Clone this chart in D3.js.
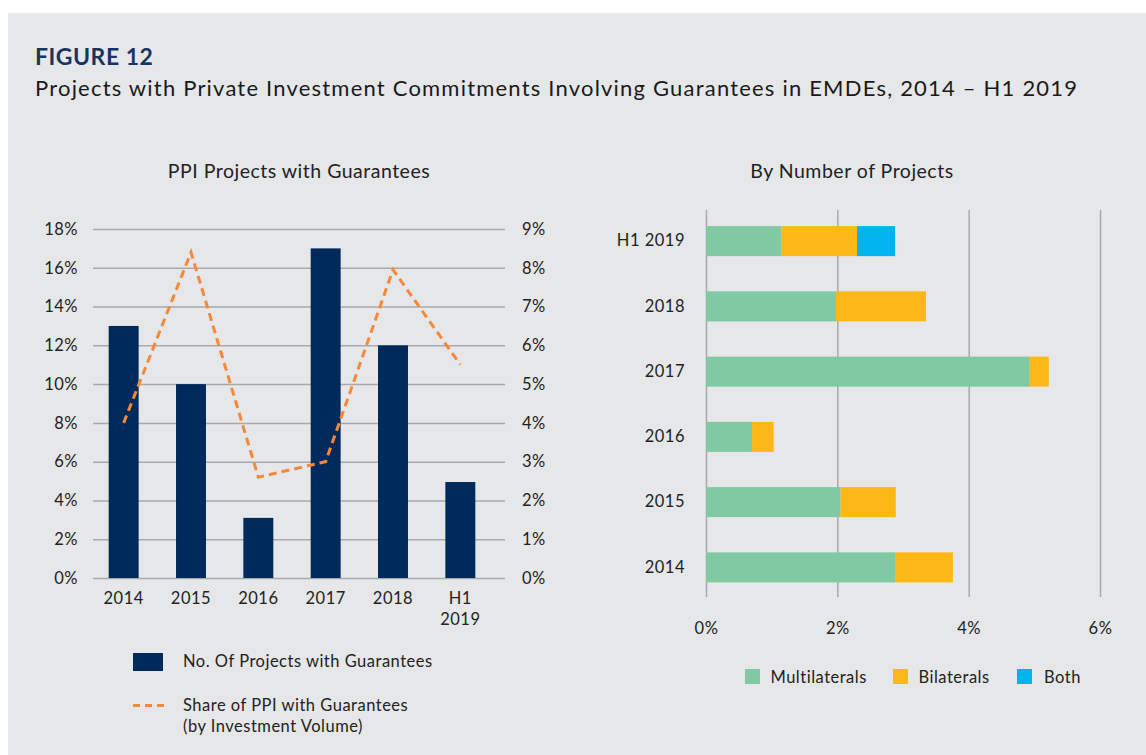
<!DOCTYPE html>
<html>
<head>
<meta charset="utf-8">
<script src="https://cdn.jsdelivr.net/npm/d3@7"></script>
<style>
  body { margin: 0; background: #fff; font-family: Lato, "Open Sans", sans-serif; }
  svg text { letter-spacing: 0.5px; }
  .tick text { fill: #222; }
</style>
</head>
<body>
<script>
// ---- data ----
var years = ["2014", "2015", "2016", "2017", "2018", "H1 2019"];
var projectsShare = [13, 10, 3.1, 17, 12, 4.95];          // bars, left axis (%)
var volumeShare = [4.0, 8.4, 2.6, 3.0, 7.95, 5.5];        // dashed line, right axis (%)
var leftTicks = [0, 2, 4, 6, 8, 10, 12, 14, 16, 18];
var rightTicks = [0, 1, 2, 3, 4, 5, 6, 7, 8, 9];

var multilaterals = [2.89, 2.05, 0.70, 4.92, 1.98, 1.15];
var bilaterals = [0.87, 0.84, 0.33, 0.30, 1.37, 1.15];
var both = [0, 0, 0, 0, 0, 0.58];
var groupKeys = ["Multilaterals", "Bilaterals", "Both"];
var barTicks = [0, 2, 4, 6];

var navy = "#012a5c", orange = "#f5883a";
var groupColors = {"Multilaterals": "#80c9a3", "Bilaterals": "#fdb716", "Both": "#00b5ef"};
var gridColor = "#a9a9a9";

var W = 1146, H = 755;
var svg = d3.select("body").append("svg")
    .attr("width", W)
    .attr("height", H)
    .style("display", "block");

// grey panel
svg.append("rect")
    .attr("x", 8).attr("y", 13)
    .attr("width", W - 8).attr("height", H - 13)
    .attr("fill", "#e6e7e9");

svg.append("text")
    .attr("x", 35).attr("y", 65)
    .attr("font-size", "23px")
    .attr("font-weight", 700)
    .attr("fill", "#17365f")
    .text("FIGURE 12");

svg.append("text")
    .attr("x", 35).attr("y", 96)
    .attr("font-size", "22px")
    .style("letter-spacing", "1.2px")
    .attr("fill", "#1a1a1a")
    .text("Projects with Private Investment Commitments Involving Guarantees in EMDEs, 2014 \u2013 H1 2019");

// ================= left chart =================
var left = {x0: 93, x1: 505, y0: 578, y1: 229};

var xBand = d3.scaleBand().domain(years)
    .range([90, 494])
    .paddingInner(0.555)
    .paddingOuter(0.2775);

var yLeft = d3.scaleLinear().domain([0, 18]).range([left.y0, left.y1]);
var yRight = d3.scaleLinear().domain([0, 9]).range([left.y0, left.y1]);

svg.append("text")
    .attr("x", 299).attr("y", 178)
    .attr("text-anchor", "middle")
    .attr("font-size", "19.5px")
    .attr("fill", "#222")
    .text("PPI Projects with Guarantees");

// gridlines + left labels
var gyL = svg.append("g")
    .attr("transform", "translate(" + left.x0 + ",0)")
    .call(d3.axisLeft(yLeft)
        .tickValues(leftTicks)
        .tickSizeInner(-(left.x1 - left.x0))
        .tickSizeOuter(0)
        .tickPadding(15)
        .tickFormat(function(d){ return d + "%"; }));
gyL.select(".domain").remove();
gyL.selectAll("line").attr("stroke", gridColor).attr("stroke-width", 1.5);
gyL.selectAll("text").attr("font-size", "16.5px").attr("font-family", "Lato");

var gyR = svg.append("g")
    .attr("transform", "translate(" + left.x1 + ",0)")
    .call(d3.axisRight(yRight)
        .tickValues(rightTicks)
        .tickSize(0)
        .tickPadding(17)
        .tickFormat(function(d){ return d + "%"; }));
gyR.select(".domain").remove();
gyR.selectAll("text").attr("font-size", "16.5px").attr("font-family", "Lato");

// bars
svg.selectAll(".projBar")
    .data(years)
    .enter()
    .append("rect")
    .attr("class", "projBar")
    .attr("x", function(d){ return xBand(d); })
    .attr("y", function(d, i){ return yLeft(projectsShare[i]); })
    .attr("width", xBand.bandwidth())
    .attr("height", function(d, i){ return left.y0 - yLeft(projectsShare[i]); })
    .attr("fill", navy);

// dashed line
var line = d3.line()
    .x(function(d, i){ return xBand(years[i]) + xBand.bandwidth() / 2; })
    .y(function(d){ return yRight(d); });

svg.append("path")
    .datum(volumeShare)
    .attr("d", line)
    .attr("fill", "none")
    .attr("stroke", orange)
    .attr("stroke-width", 3)
    .attr("stroke-dasharray", "8,5");

// x labels
var gxL = svg.append("g")
    .attr("transform", "translate(0," + left.y0 + ")")
    .call(d3.axisBottom(xBand).tickSize(0).tickPadding(14));
gxL.select(".domain").remove();
gxL.selectAll("text")
    .attr("font-size", "16.5px")
    .attr("font-family", "Lato")
    .each(function(d){
        var parts = d.split(" ");
        if (parts.length > 1) {
            var t = d3.select(this).text("");
            t.append("tspan").attr("x", 0).text(parts[0]);
            t.append("tspan").attr("x", 0).attr("dy", "1.3em").text(parts[1]);
        }
    });

// legend left
svg.append("rect")
    .attr("x", 133).attr("y", 653)
    .attr("width", 30).attr("height", 18)
    .attr("fill", navy);
svg.append("text")
    .attr("x", 183).attr("y", 667)
    .attr("font-size", "16.5px").attr("fill", "#222")
    .text("No. Of Projects with Guarantees");
svg.append("line")
    .attr("x1", 133).attr("x2", 164)
    .attr("y1", 705.5).attr("y2", 705.5)
    .attr("stroke", orange).attr("stroke-width", 3)
    .attr("stroke-dasharray", "7,5");
svg.append("text")
    .attr("x", 183).attr("y", 711)
    .attr("font-size", "16.5px").attr("fill", "#222")
    .text("Share of PPI with Guarantees");
svg.append("text")
    .attr("x", 183).attr("y", 732)
    .attr("font-size", "16.5px").attr("fill", "#222")
    .text("(by Investment Volume)");

// ================= right chart =================
var right = {x0: 706, x1: 1100, yTop: 210, yBot: 597};

svg.append("text")
    .attr("x", 852).attr("y", 178)
    .attr("text-anchor", "middle")
    .attr("font-size", "19.5px")
    .attr("fill", "#222")
    .text("By Number of Projects");

var xShare = d3.scaleLinear().domain([0, 6]).range([right.x0, right.x1]);
var yBand = d3.scaleBand().domain(years.slice().reverse())
    .range([208.5, 600])
    .paddingInner(0.54)
    .paddingOuter(0.27);

var gxR = svg.append("g")
    .attr("transform", "translate(0," + right.yBot + ")")
    .call(d3.axisBottom(xShare)
        .tickValues(barTicks)
        .tickSizeInner(-(right.yBot - right.yTop))
        .tickSizeOuter(0)
        .tickPadding(25)
        .tickFormat(function(d){ return d + "%"; }));
gxR.select(".domain").remove();
gxR.selectAll("line").attr("stroke", gridColor).attr("stroke-width", 1.5);
gxR.selectAll("text").attr("font-size", "16.5px").attr("font-family", "Lato");

var rows = years.map(function(y, i){
    return {year: y, "Multilaterals": multilaterals[i], "Bilaterals": bilaterals[i], "Both": both[i]};
});
var stack = d3.stack().keys(groupKeys)(rows);

svg.selectAll(".layer")
    .data(stack)
    .enter()
    .append("g")
    .attr("class", "layer")
    .attr("fill", function(d){ return groupColors[d.key]; })
    .selectAll("rect")
    .data(function(d){ return d; })
    .enter()
    .append("rect")
    .attr("x", function(d){ return xShare(d[0]); })
    .attr("y", function(d){ return yBand(d.data.year); })
    .attr("width", function(d){ return xShare(d[1]) - xShare(d[0]); })
    .attr("height", yBand.bandwidth());

var gyB = svg.append("g")
    .attr("transform", "translate(" + right.x0 + ",0)")
    .call(d3.axisLeft(yBand).tickSize(0).tickPadding(21));
gyB.select(".domain").remove();
gyB.selectAll("text").attr("font-size", "16.5px").attr("font-family", "Lato");

// legend right
var legX = [745, 893, 1017];
var leg = svg.selectAll(".legR")
    .data(groupKeys)
    .enter()
    .append("g")
    .attr("class", "legR")
    .attr("transform", function(d, i){ return "translate(" + legX[i] + ",669)"; });
leg.append("rect")
    .attr("width", 15).attr("height", 15)
    .attr("fill", function(d){ return groupColors[d]; });
leg.append("text")
    .attr("x", function(d, i){ return i == 2 ? 27 : 25.5; })
    .attr("y", 14)
    .attr("font-size", "16.5px").attr("fill", "#222")
    .text(function(d){ return d; });
</script>
</body>
</html>
